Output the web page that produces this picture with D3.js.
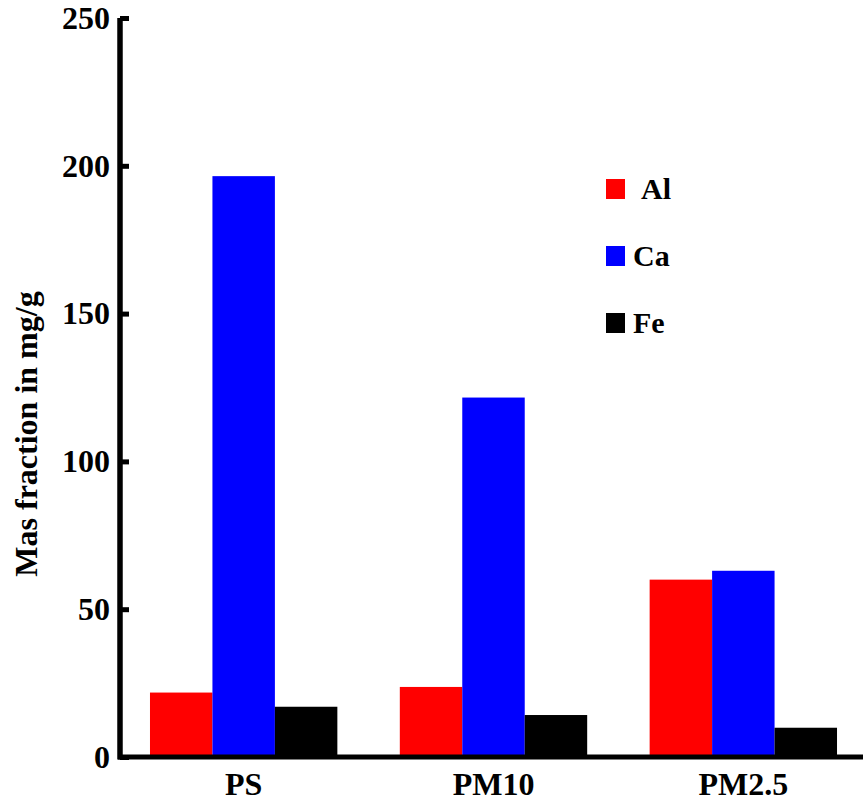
<!DOCTYPE html>
<html>
<head>
<meta charset="utf-8">
<script src="https://cdn.jsdelivr.net/npm/d3@7"></script>
<style>
  html, body { margin: 0; padding: 0; background: #fff; }
  svg { display: block; }
  text { font-family: "Liberation Serif", "Times New Roman", serif; font-weight: bold; fill: #000; }
</style>
</head>
<body>
<svg id="chart" width="863" height="802"></svg>
<script>
const categories = ["PS", "PM10", "PM2.5"];
const seriesNames = ["Al", "Ca", "Fe"];
const seriesColors = ["#ff0000", "#0000ff", "#000000"];
const alValues = [21.8, 23.7, 60.0];
const caValues = [196.5, 121.6, 63.0];
const feValues = [17.0, 14.2, 9.9];
const yTicks = [0, 50, 100, 150, 200, 250];
const yTitle = "Mas fraction in mg/g";

const seriesValues = [alValues, caValues, feValues];

const svg = d3.select("#chart");
const axisX = 120, y0 = 757, yTop = 18;

const y = d3.scaleLinear().domain([0, 250]).range([y0, yTop]);
const x = d3.scaleBand().domain(categories).range([axisX, 867]).paddingInner(0.25).paddingOuter(0.12);
const xs = d3.scaleBand().domain(seriesNames).range([0, x.bandwidth()]).padding(0);

// bars
const groups = svg.append("g").selectAll("g").data(categories).join("g")
  .attr("transform", d => `translate(${x(d)},0)`);
groups.selectAll("rect")
  .data((c, i) => seriesNames.map((s, j) => ({ s, v: seriesValues[j][i], color: seriesColors[j] })))
  .join("rect")
  .attr("x", d => xs(d.s))
  .attr("width", xs.bandwidth())
  .attr("y", d => y(d.v))
  .attr("height", d => y(0) - y(d.v))
  .attr("fill", d => d.color);

// x axis line
svg.append("line").attr("x1", 118).attr("x2", 863).attr("y1", y0).attr("y2", y0)
  .attr("stroke", "#000").attr("stroke-width", 5);

// y axis
const yAxis = d3.axisRight(y).tickValues(yTicks).tickSize(9).tickFormat("");
const gy = svg.append("g").attr("transform", `translate(${axisX},0)`).call(yAxis);
gy.select(".domain").remove();
gy.selectAll(".tick line").attr("stroke", "#000").attr("stroke-width", 5);
svg.append("line").attr("x1", axisX).attr("x2", axisX).attr("y1", yTop).attr("y2", y0 + 2.5)
  .attr("stroke", "#000").attr("stroke-width", 5.5);

// y tick labels
svg.append("g").selectAll("text").data(yTicks).join("text")
  .attr("x", 110).attr("y", d => y(d)).attr("dy", "0.34em")
  .attr("text-anchor", "end").attr("font-size", 32)
  .text(d => d);

// x labels
svg.append("g").selectAll("text").data(categories).join("text")
  .attr("x", d => x(d) + x.bandwidth() / 2).attr("y", 795)
  .attr("text-anchor", "middle").attr("font-size", 32)
  .text(d => d);

// y title
svg.append("text")
  .attr("transform", `translate(37,434) rotate(-90)`)
  .attr("text-anchor", "middle").attr("font-size", 32)
  .text(yTitle);

// legend
const legend = svg.append("g");
const legY = [179, 246, 313];
seriesNames.forEach((s, i) => {
  legend.append("rect").attr("x", 606).attr("y", legY[i]).attr("width", 19).attr("height", 20)
    .attr("fill", seriesColors[i]);
  legend.append("text").attr("x", i === 0 ? 641 : 633).attr("y", legY[i] + 20)
    .attr("font-size", 30).text(s);
});
</script>
</body>
</html>
